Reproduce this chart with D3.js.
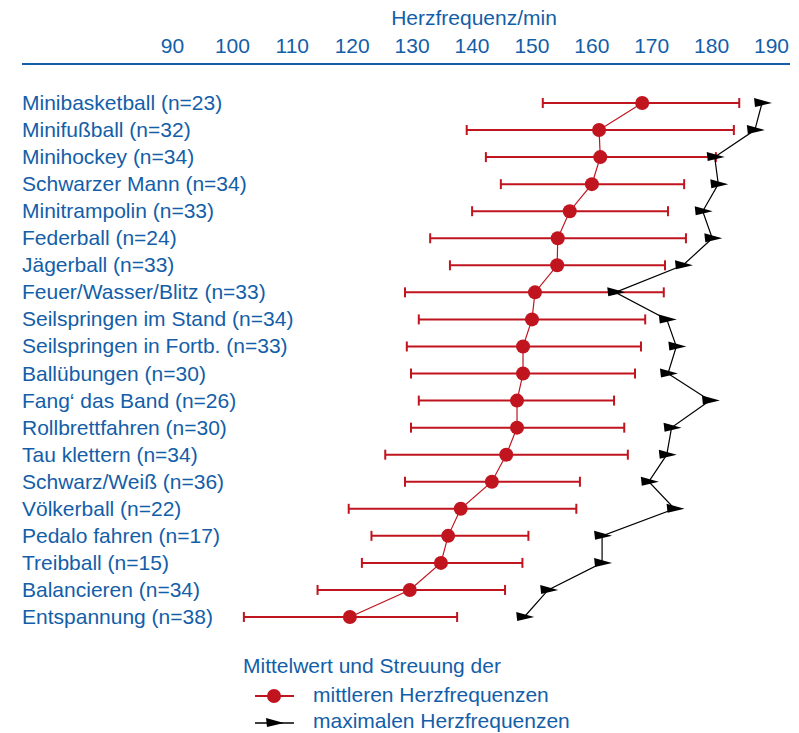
<!DOCTYPE html>
<html>
<head>
  <meta charset="utf-8">
  <script src="https://d3js.org/d3.v7.min.js"></script>
  <style>
    body { margin: 0; background: #fff; }
    text { font-family: "Liberation Sans", Arial, sans-serif; }
  </style>
</head>
<body>
  <script>
    // categories (top to bottom)
    var games = ["Minibasketball (n=23)", "Minifußball (n=32)", "Minihockey (n=34)",
      "Schwarzer Mann (n=34)", "Minitrampolin (n=33)", "Federball (n=24)",
      "Jägerball (n=33)", "Feuer/Wasser/Blitz (n=33)", "Seilspringen im Stand (n=34)",
      "Seilspringen in Fortb. (n=33)", "Ballübungen (n=30)", "Fang‘ das Band (n=26)",
      "Rollbrettfahren (n=30)", "Tau klettern (n=34)", "Schwarz/Weiß (n=36)",
      "Völkerball (n=22)", "Pedalo fahren (n=17)", "Treibball (n=15)",
      "Balancieren (n=34)", "Entspannung (n=38)"];

    // mean heart rate
    var means = [168.5, 161.3, 161.5, 160.1, 156.4, 154.4, 154.3, 150.6, 150.1, 148.6,
      148.6, 147.6, 147.6, 145.8, 143.4, 138.2, 136.1, 134.9, 129.7, 119.7];
    // spread low / high
    var lows = [151.9, 139.2, 142.4, 144.9, 140.1, 133.1, 136.4, 128.9, 131.2, 129.2,
      129.9, 131.2, 129.9, 125.6, 128.9, 119.5, 123.3, 121.7, 114.3, 102.0];
    var highs = [184.7, 183.8, 180.8, 175.5, 172.8, 175.8, 172.3, 172.1, 169.0, 168.3,
      167.3, 163.8, 165.5, 166.1, 158.1, 157.5, 149.5, 148.5, 145.6, 137.6];
    // max heart rate
    var maxima = [188.5, 187.3, 180.6, 181.2, 178.6, 180.2, 175.3, 164.0, 172.6, 174.2,
      172.8, 179.8, 173.4, 172.6, 169.6, 173.9, 161.8, 161.8, 152.8, 148.8];

    var ticks = [90, 100, 110, 120, 130, 140, 150, 160, 170, 180, 190];

    var blue = "#135ea8", red = "#c0141f";
    var fs = "21px";

    var svg = d3.select("body").append("svg")
      .attr("width", 799).attr("height", 733);

    var x = d3.scaleLinear().domain([90, 190]).range([172, 771]);
    var y = d3.scalePoint().domain(games).range([103, 617]);

    // title + top axis
    svg.append("text")
      .attr("x", 474).attr("y", 25)
      .attr("text-anchor", "middle")
      .style("font-size", fs).style("fill", blue)
      .text("Herzfrequenz/min");

    var axis = svg.append("g").attr("transform", "translate(0,53)")
      .call(d3.axisTop(x).tickValues(ticks).tickSize(0).tickPadding(0));
    axis.select(".domain").remove();
    axis.selectAll("text")
      .style("font-size", fs).style("fill", blue)
      .style("font-family", "'Liberation Sans', Arial, sans-serif");

    svg.append("line")
      .attr("x1", 22).attr("x2", 790).attr("y1", 64).attr("y2", 64)
      .style("stroke", blue).style("stroke-width", 2.2);

    // category labels
    svg.selectAll(".lab").data(games).enter().append("text")
      .attr("class", "lab")
      .attr("x", 22).attr("y", d => y(d) + 7)
      .style("font-size", fs).style("fill", blue)
      .text(d => d);

    // spread bars
    var bars = svg.append("g").selectAll("g").data(games).enter().append("g");
    bars.append("line")
      .attr("x1", (d, i) => x(lows[i])).attr("x2", (d, i) => x(highs[i]))
      .attr("y1", d => y(d)).attr("y2", d => y(d))
      .style("stroke", red).style("stroke-width", 2);
    bars.append("line")
      .attr("x1", (d, i) => x(lows[i])).attr("x2", (d, i) => x(lows[i]))
      .attr("y1", d => y(d) - 5).attr("y2", d => y(d) + 5)
      .style("stroke", red).style("stroke-width", 2);
    bars.append("line")
      .attr("x1", (d, i) => x(highs[i])).attr("x2", (d, i) => x(highs[i]))
      .attr("y1", d => y(d) - 5).attr("y2", d => y(d) + 5)
      .style("stroke", red).style("stroke-width", 2);

    // mean line + dots
    svg.append("path")
      .datum(games)
      .attr("d", d3.line().x((d, i) => x(means[i])).y(d => y(d)))
      .style("fill", "none").style("stroke", red).style("stroke-width", 1.2);
    svg.selectAll(".dot").data(games).enter().append("circle")
      .attr("cx", (d, i) => x(means[i])).attr("cy", d => y(d))
      .attr("r", 7).style("fill", red);

    // max line + flags
    svg.append("path")
      .datum(games)
      .attr("d", d3.line().x((d, i) => x(maxima[i])).y(d => y(d)))
      .style("fill", "none").style("stroke", "#000").style("stroke-width", 1.2);

    function flag(cx, cy) {
      return "M" + (cx - 8) + "," + (cy - 5) + "L" + (cx + 10) + "," + cy +
        "L" + (cx - 7) + "," + (cy + 4) + "Z";
    }
    svg.selectAll(".mx").data(games).enter().append("path")
      .attr("d", (d, i) => flag(x(maxima[i]), y(d)))
      .style("fill", "#000");

    // legend
    var leg = svg.append("g");
    leg.append("text").attr("x", 243).attr("y", 673)
      .style("font-size", fs).style("fill", blue)
      .text("Mittelwert und Streuung der");
    leg.append("line").attr("x1", 255).attr("x2", 294).attr("y1", 696).attr("y2", 696)
      .style("stroke", red).style("stroke-width", 2);
    leg.append("circle").attr("cx", 274).attr("cy", 696).attr("r", 7).style("fill", red);
    leg.append("text").attr("x", 313).attr("y", 702)
      .style("font-size", fs).style("fill", blue)
      .text("mittleren Herzfrequenzen");
    leg.append("line").attr("x1", 255).attr("x2", 294).attr("y1", 723).attr("y2", 723)
      .style("stroke", "#000").style("stroke-width", 1.5);
    leg.append("path").attr("d", flag(274, 723)).style("fill", "#000");
    leg.append("text").attr("x", 313).attr("y", 728)
      .style("font-size", fs).style("fill", blue)
      .text("maximalen Herzfrequenzen");
  </script>
</body>
</html>
